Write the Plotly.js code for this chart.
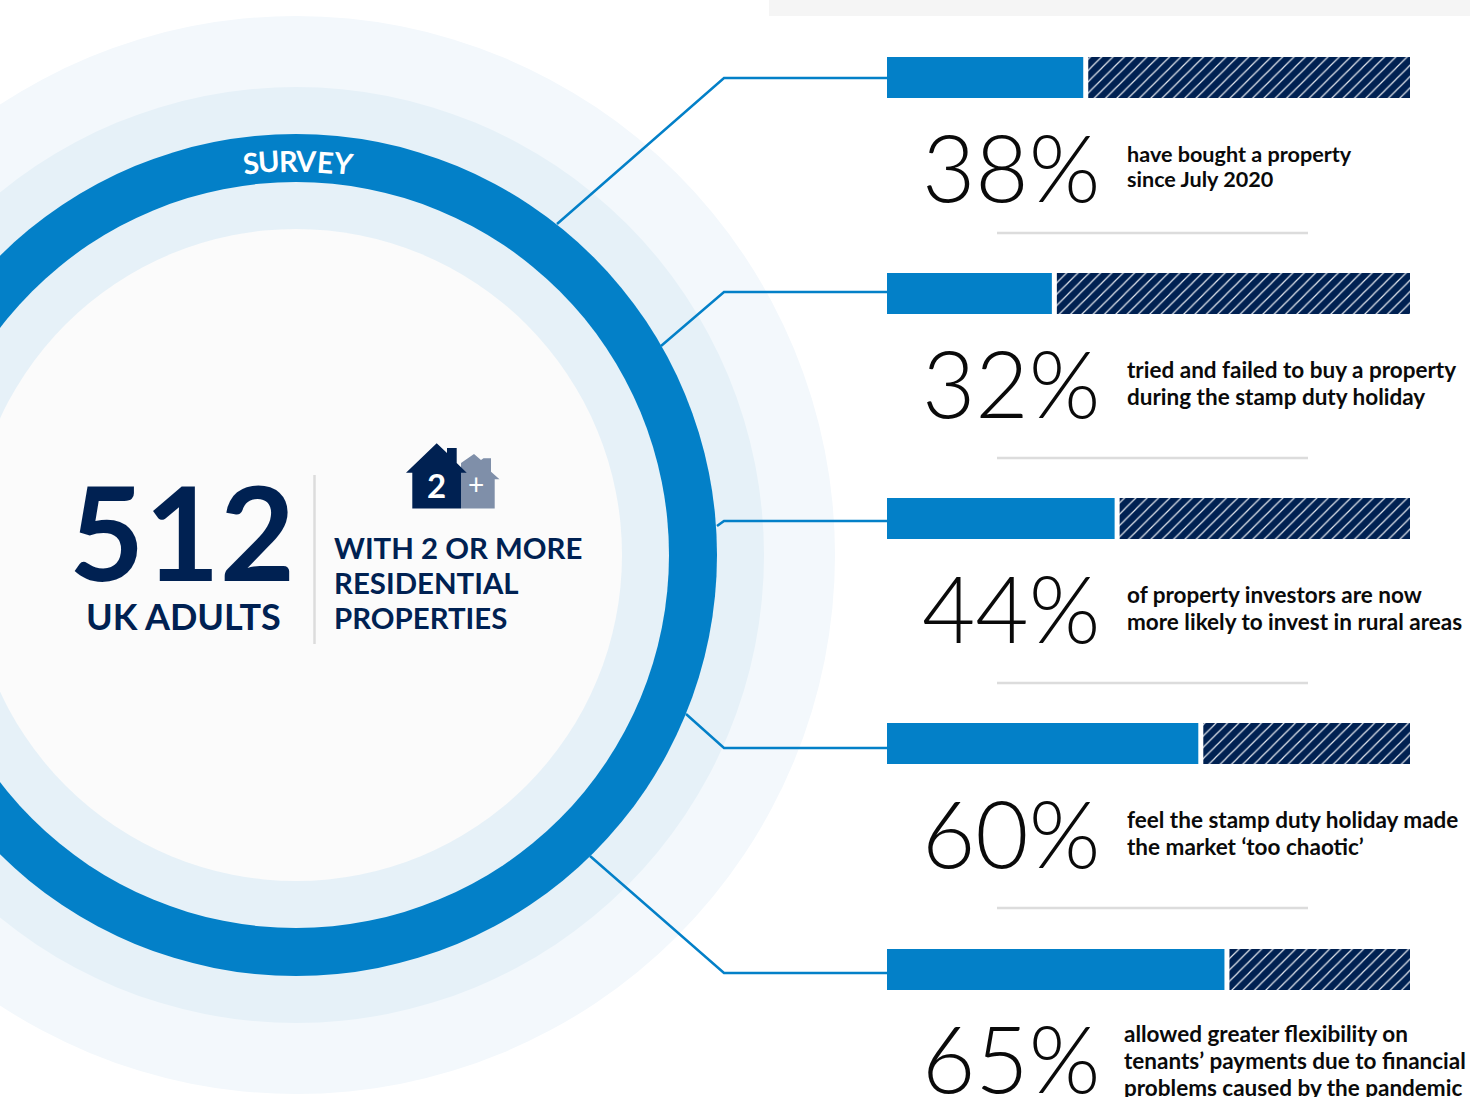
<!DOCTYPE html>
<html>
<head>
<meta charset="utf-8">
<title>Survey of UK adults with 2 or more residential properties</title>
<script src="https://cdn.plot.ly/plotly-3.0.1.min.js"></script>
<style>html,body{margin:0;padding:0;background:#fff;overflow:hidden}#chart{width:1470px;height:1097px}</style>
</head>
<body>
<div id="chart"></div>
<script>
// Survey results
const shares = [38, 32, 44, 60, 65];
const remainders = [62, 68, 56, 40, 35];
const statements = [
  ['have bought a property', 'since July 2020'],
  ['tried and failed to buy a property', 'during the stamp duty holiday'],
  ['of property investors are now', 'more likely to invest in rural areas'],
  ['feel the stamp duty holiday made', 'the market ‘too chaotic’'],
  ['allowed greater flexibility on', 'tenants’ payments due to financial', 'problems caused by the pandemic']
];
const respondents = '512';

// Row layout on the page, in pixels
const barRows = [77.5, 293.5, 518.5, 743.5, 969.5];
const percentRows = [166, 382, 607, 832, 1057];
const statementRows = [[154, 179], [369, 396], [594, 621], [819, 846], [1033, 1060, 1087]];
const statementLeft = [1125, 1125, 1125, 1125, 1122];
const statementSizes = [21.6, 22.5, 22.5, 22.5, 22.5];
const dividerRows = [233, 458, 683, 908];
const connectorX = [[557, 724, 887], [661, 724, 887], [717, 724, 887], [686, 724, 887], [590, 724, 887]];
const connectorY = [[224, 78, 78], [346, 292, 292], [526, 521, 521], [714, 748, 748], [856, 973, 973]];

const BLUE = '#0380c8', NAVY = '#002152', BLACK = '#0a0a0a', RULE = '#dcdcdc';
const SANS = 'Lato, sans-serif';
const CX = 296, CY = 555;

const disc = (r, fill) => ({
  type: 'circle', xref: 'x', yref: 'y', layer: 'below',
  x0: CX - r, x1: CX + r, y0: CY - r, y1: CY + r,
  fillcolor: fill, line: {width: 0}
});
const rule = (x0, y0, x1, y1) => ({
  type: 'line', xref: 'x', yref: 'y', layer: 'below', x0, y0, x1, y1,
  line: {color: RULE, width: 2.5}
});
const outline = (points, fill) => ({
  type: 'path', xref: 'x', yref: 'y', layer: 'below',
  path: 'M' + points.map(p => p.join(',')).join('L') + 'Z',
  fillcolor: fill, line: {width: 0}
});

const shapes = [
  {type: 'rect', xref: 'x', yref: 'y', layer: 'below', x0: 769, x1: 1470, y0: 0, y1: 16,
   fillcolor: '#f5f5f5', line: {width: 0}},
  disc(539, '#f3f8fc'), disc(468, '#e6f1f8'), disc(421, BLUE), disc(373, '#e6f1f8'), disc(326, '#fbfbfb'),
  rule(314.5, 475, 314.5, 644),
  ...dividerRows.map(y => rule(997, y, 1308, y)),
  // Pair of houses above the portfolio caption
  outline([[461, 463], [474, 454], [481, 460], [483.5, 458.3], [491, 458.3], [491, 471.7], [499.5, 479.3],
           [494.7, 479.3], [494.7, 508.5], [461, 508.5]], '#7f8fa9'),
  outline([[436.7, 443.3], [447, 453], [447, 448], [456.7, 448], [456.7, 463], [466.7, 472.7], [461, 472.7],
           [461, 508.5], [412.3, 508.5], [412.3, 472.7], [406, 472.7]], NAVY)
];

const label = (text, x, y, size, color, weight, xanchor) => ({
  xref: 'x', yref: 'y', x, y, text, showarrow: false, xanchor: xanchor || 'left', yanchor: 'middle',
  font: {family: SANS, size, color, weight}
});

const annotations = [];
// Heading set along the ring
const heading = [['S', 251], ['U', 269], ['R', 288], ['V', 306], ['E', 325], ['Y', 343]];
heading.forEach(([ch, x]) => {
  const dx = x - CX, r = 395;
  const a = label(ch, x, CY - Math.sqrt(r * r - dx * dx), 29, '#ffffff', 700, 'center');
  a.textangle = Math.asin(dx / r) * 180 / Math.PI;
  annotations.push(a);
});
annotations.push(
  label(respondents, 181.5, 531, 130, NAVY, 700, 'center'),
  label('UK ADULTS', 183, 616, 36, NAVY, 700, 'center'),
  label('WITH 2 OR MORE', 332, 547, 29.4, NAVY, 700),
  label('RESIDENTIAL', 332, 582, 29.4, NAVY, 700),
  label('PROPERTIES', 332, 617, 29.4, NAVY, 700),
  label('2', 436.5, 485, 33, '#ffffff', 700, 'center'),
  label('+', 476, 484, 28, '#ffffff', 400, 'center')
);
shares.forEach((v, i) => {
  annotations.push(label(v + '%', 1011, percentRows[i], 92, BLACK, 300, 'center'));
  statements[i].forEach((line, j) => {
    annotations.push(label(line, statementLeft[i], statementRows[i][j], statementSizes[i], BLACK, 700));
  });
});

const traces = [
  // Leader lines from the ring out to each bar
  ...connectorX.map((xs, i) => ({
    type: 'scatter', mode: 'lines', xaxis: 'x', yaxis: 'y', x: xs, y: connectorY[i],
    line: {color: BLUE, width: 2.5}, hoverinfo: 'skip'
  })),
  {type: 'bar', orientation: 'h', xaxis: 'x2', yaxis: 'y', x: shares, y: barRows, width: 41,
   marker: {color: BLUE, line: {width: 0}}, hoverinfo: 'x'},
  {type: 'bar', orientation: 'h', xaxis: 'x2', yaxis: 'y', x: remainders, y: barRows, width: 41,
   marker: {color: NAVY, line: {width: 0},
            pattern: {shape: '/', bgcolor: NAVY, fgcolor: '#e4e8ef', size: 8, solidity: 0.15, fillmode: 'replace'}},
   hoverinfo: 'x'},
  // White notch where the two parts of each bar meet
  {type: 'scatter', mode: 'markers', xaxis: 'x2', yaxis: 'y', x: shares, y: barRows,
   marker: {symbol: 'line-ns', size: 41, line: {color: '#ffffff', width: 5}}, hoverinfo: 'skip'}
];

const layout = {
  width: 1470, height: 1097, margin: {l: 0, r: 0, t: 0, b: 0, pad: 0},
  paper_bgcolor: '#ffffff', plot_bgcolor: 'rgba(0,0,0,0)', showlegend: false,
  barmode: 'stack',
  xaxis: {range: [0, 1470], domain: [0, 1], visible: false, fixedrange: true},
  xaxis2: {range: [0, 100], domain: [887 / 1470, 1410 / 1470], anchor: 'y', visible: false, fixedrange: true},
  yaxis: {range: [1097, 0], domain: [0, 1], visible: false, fixedrange: true},
  shapes, annotations
};

Plotly.newPlot('chart', traces, layout, {displayModeBar: false, staticPlot: true});
</script>
</body>
</html>
